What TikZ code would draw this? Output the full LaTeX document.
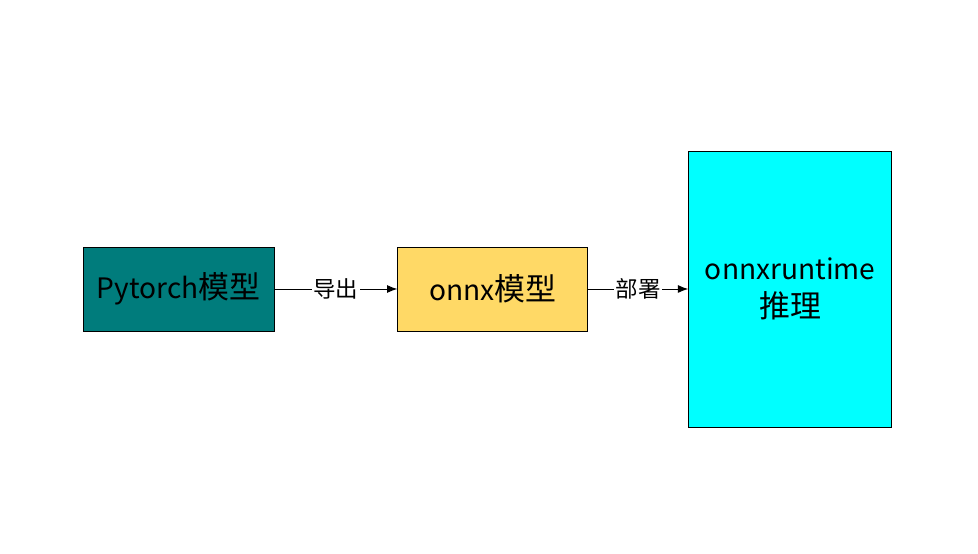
\documentclass[tikz,border=0pt]{standalone}
\usepackage{fontspec}
\setmainfont{Noto Sans CJK SC}
\usetikzlibrary{arrows, arrows.meta, positioning, calc}
\definecolor{tealbox}{HTML}{007C7C}
\definecolor{yellowbox}{HTML}{FFD966}
\definecolor{cyanbox}{HTML}{00FFFF}
\newcommand{\zhbig}[1]{{\fontsize{22}{26}\selectfont #1}}
\tikzset{
    stagebox/.style={draw=black, line width=0.6pt, minimum width=4.775cm, minimum height=2.1cm, inner sep=0pt, font=\fontsize{20}{27}\selectfont, align=center},
    flowarrow/.style={-{Latex[length=2.6mm,width=2mm]}, line width=0.7pt},
    flowlabel/.style={fill=white, inner sep=1pt, font=\fontsize{16}{19}\selectfont}
}

\begin{document}
\begin{tikzpicture}
                \useasboundingbox (0,0) rectangle (24.45,13.825);
                \node[stagebox, fill=tealbox] (torch) at (4.4625,6.6) {Pytorch\zhbig{模型}};
                \node[stagebox, fill=yellowbox, minimum width=4.75cm, right=3.075cm of torch] (onnx) {onnx\zhbig{模型}};
                \node[stagebox, fill=cyanbox, minimum width=5.075cm, minimum height=6.9cm, right=2.5cm of onnx] (runtime) {onnxruntime\\\zhbig{推理}};
                \draw[flowarrow] (torch) -- node[flowlabel] (export) {导出} (onnx);
                \draw[flowarrow] (onnx) -- node[flowlabel] (deploy) {部署} (runtime);
            \end{tikzpicture}
\end{document}
